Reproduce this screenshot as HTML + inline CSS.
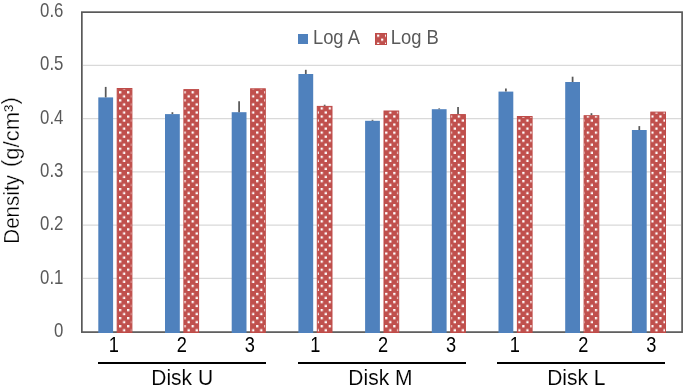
<!DOCTYPE html>
<html><head><meta charset="utf-8"><style>
html,body{margin:0;padding:0;background:#fff;}
body{width:685px;height:387px;overflow:hidden;}
svg{display:block;will-change:transform;}
text{font-family:"Liberation Sans",sans-serif;}
</style></head><body>
<svg width="685" height="387" viewBox="0 0 685 387">
<defs>
<pattern id="dots" patternUnits="userSpaceOnUse" x="119.0" y="91.2" width="8.065" height="8.065">
<rect width="8.065" height="8.065" fill="#C0504D"/>
<rect x="0" y="0" width="2.25" height="2.25" fill="#fff"/>
<rect x="4.03" y="4.03" width="2.25" height="2.25" fill="#fff"/>
</pattern>
<pattern id="dotsL" patternUnits="userSpaceOnUse" x="377.1" y="34.6" width="8" height="8">
<rect width="8" height="8" fill="#C0504D"/>
<rect x="0" y="0" width="2.2" height="2.2" fill="#fff"/>
<rect x="4" y="4" width="2.2" height="2.2" fill="#fff"/>
</pattern>
</defs>
<rect width="685" height="387" fill="#fff"/>
<line x1="83" x2="681" y1="278.42" y2="278.42" stroke="#D9D9D9" stroke-width="1.2"/>
<line x1="83" x2="681" y1="225.14" y2="225.14" stroke="#D9D9D9" stroke-width="1.2"/>
<line x1="83" x2="681" y1="171.86" y2="171.86" stroke="#D9D9D9" stroke-width="1.2"/>
<line x1="83" x2="681" y1="118.58" y2="118.58" stroke="#D9D9D9" stroke-width="1.2"/>
<line x1="83" x2="681" y1="65.30" y2="65.30" stroke="#D9D9D9" stroke-width="1.2"/>
<rect x="81.85" y="12.15" width="600.25" height="319.95" fill="none" stroke="#595959" stroke-width="1.7"/>
<rect x="98.30" y="97.40" width="14.80" height="235.60" fill="#4F81BD"/>
<rect x="117.20" y="88.50" width="14.70" height="244.00" fill="url(#dots)" stroke="#BE4B48" stroke-width="1"/>
<rect x="165.00" y="114.10" width="14.80" height="218.90" fill="#4F81BD"/>
<rect x="183.90" y="89.60" width="14.70" height="242.90" fill="url(#dots)" stroke="#BE4B48" stroke-width="1"/>
<rect x="231.70" y="112.20" width="14.80" height="220.80" fill="#4F81BD"/>
<rect x="250.60" y="88.80" width="14.70" height="243.70" fill="url(#dots)" stroke="#BE4B48" stroke-width="1"/>
<rect x="298.40" y="74.00" width="14.80" height="259.00" fill="#4F81BD"/>
<rect x="317.30" y="106.40" width="14.70" height="226.10" fill="url(#dots)" stroke="#BE4B48" stroke-width="1"/>
<rect x="365.10" y="120.80" width="14.80" height="212.20" fill="#4F81BD"/>
<rect x="384.00" y="111.00" width="14.70" height="221.50" fill="url(#dots)" stroke="#BE4B48" stroke-width="1"/>
<rect x="431.80" y="109.20" width="14.80" height="223.80" fill="#4F81BD"/>
<rect x="450.70" y="114.60" width="14.70" height="217.90" fill="url(#dots)" stroke="#BE4B48" stroke-width="1"/>
<rect x="498.50" y="91.60" width="14.80" height="241.40" fill="#4F81BD"/>
<rect x="517.40" y="116.50" width="14.70" height="216.00" fill="url(#dots)" stroke="#BE4B48" stroke-width="1"/>
<rect x="565.20" y="82.00" width="14.80" height="251.00" fill="#4F81BD"/>
<rect x="584.10" y="115.70" width="14.70" height="216.80" fill="url(#dots)" stroke="#BE4B48" stroke-width="1"/>
<rect x="631.90" y="130.00" width="14.80" height="203.00" fill="#4F81BD"/>
<rect x="650.80" y="112.10" width="14.70" height="220.40" fill="url(#dots)" stroke="#BE4B48" stroke-width="1"/>
<line x1="105.70" x2="105.70" y1="97.40" y2="86.90" stroke="#595959" stroke-width="1.75"/>
<line x1="172.40" x2="172.40" y1="114.10" y2="112.20" stroke="#595959" stroke-width="1.75"/>
<line x1="239.10" x2="239.10" y1="112.20" y2="101.20" stroke="#595959" stroke-width="1.75"/>
<line x1="305.80" x2="305.80" y1="74.00" y2="69.80" stroke="#595959" stroke-width="1.75"/>
<line x1="324.65" x2="324.65" y1="105.90" y2="104.70" stroke="#595959" stroke-width="1.75"/>
<line x1="372.50" x2="372.50" y1="120.80" y2="119.80" stroke="#595959" stroke-width="1.75"/>
<line x1="439.20" x2="439.20" y1="109.20" y2="108.40" stroke="#595959" stroke-width="1.75"/>
<line x1="458.05" x2="458.05" y1="114.10" y2="106.90" stroke="#595959" stroke-width="1.75"/>
<line x1="505.90" x2="505.90" y1="91.60" y2="88.50" stroke="#595959" stroke-width="1.75"/>
<line x1="572.60" x2="572.60" y1="82.00" y2="76.70" stroke="#595959" stroke-width="1.75"/>
<line x1="591.45" x2="591.45" y1="115.20" y2="113.20" stroke="#595959" stroke-width="1.75"/>
<line x1="639.30" x2="639.30" y1="130.00" y2="126.10" stroke="#595959" stroke-width="1.75"/>
<text transform="translate(63.40,337.00) scale(0.84,1)" font-size="20.0" fill="#595959" text-anchor="end">0</text>
<text transform="translate(63.40,284.00) scale(0.84,1)" font-size="20.0" fill="#595959" text-anchor="end">0.1</text>
<text transform="translate(63.40,230.00) scale(0.84,1)" font-size="20.0" fill="#595959" text-anchor="end">0.2</text>
<text transform="translate(63.40,177.00) scale(0.84,1)" font-size="20.0" fill="#595959" text-anchor="end">0.3</text>
<text transform="translate(63.40,124.00) scale(0.84,1)" font-size="20.0" fill="#595959" text-anchor="end">0.4</text>
<text transform="translate(63.40,70.00) scale(0.84,1)" font-size="20.0" fill="#595959" text-anchor="end">0.5</text>
<text transform="translate(63.40,17.00) scale(0.84,1)" font-size="20.0" fill="#595959" text-anchor="end">0.6</text>
<text transform="translate(113.75,352.00) scale(0.86,1)" font-size="21.2" fill="#000" text-anchor="middle">1</text>
<text transform="translate(181.75,352.00) scale(0.86,1)" font-size="21.2" fill="#000" text-anchor="middle">2</text>
<text transform="translate(249.70,352.00) scale(0.86,1)" font-size="21.2" fill="#000" text-anchor="middle">3</text>
<text transform="translate(315.20,352.00) scale(0.86,1)" font-size="21.2" fill="#000" text-anchor="middle">1</text>
<text transform="translate(382.95,352.00) scale(0.86,1)" font-size="21.2" fill="#000" text-anchor="middle">2</text>
<text transform="translate(451.00,352.00) scale(0.86,1)" font-size="21.2" fill="#000" text-anchor="middle">3</text>
<text transform="translate(514.70,352.00) scale(0.86,1)" font-size="21.2" fill="#000" text-anchor="middle">1</text>
<text transform="translate(583.25,352.00) scale(0.86,1)" font-size="21.2" fill="#000" text-anchor="middle">2</text>
<text transform="translate(651.20,352.00) scale(0.86,1)" font-size="21.2" fill="#000" text-anchor="middle">3</text>
<rect x="98" y="362" width="168" height="2" fill="#000"/>
<rect x="298" y="362" width="168" height="2" fill="#000"/>
<rect x="497" y="362" width="168" height="2" fill="#000"/>
<text transform="translate(182.15,385.00) scale(0.921,1)" font-size="22.8" fill="#000" text-anchor="middle" stroke="#fff" stroke-width="0.1">Disk U</text>
<text transform="translate(380.40,385.00) scale(0.921,1)" font-size="22.8" fill="#000" text-anchor="middle" stroke="#fff" stroke-width="0.1">Disk M</text>
<text transform="translate(576.35,385.00) scale(0.921,1)" font-size="22.8" fill="#000" text-anchor="middle" stroke="#fff" stroke-width="0.1">Disk L</text>
<text transform="translate(19,243.7) rotate(-90) scale(0.949,1)" font-size="21.7" fill="#000" stroke="#fff" stroke-width="0.3">Density</text>
<text transform="translate(19,167.0) rotate(-90) scale(1.015,1)" font-size="21.7" fill="#000" stroke="#fff" stroke-width="0.3"><tspan dy="-2">(</tspan><tspan dy="2">g/cm³</tspan><tspan dy="-2">)</tspan></text>
<rect x="298" y="34" width="10" height="10" fill="#4F81BD"/>
<text transform="translate(312.90,43.90) scale(0.92,1)" font-size="20.0" fill="#595959" text-anchor="start">Log A</text>
<rect x="375.5" y="33.5" width="11" height="11" fill="url(#dotsL)" stroke="#BE4B48" stroke-width="1"/>
<text transform="translate(390.70,43.90) scale(0.92,1)" font-size="20.0" fill="#595959" text-anchor="start">Log B</text>
</svg></body></html>
